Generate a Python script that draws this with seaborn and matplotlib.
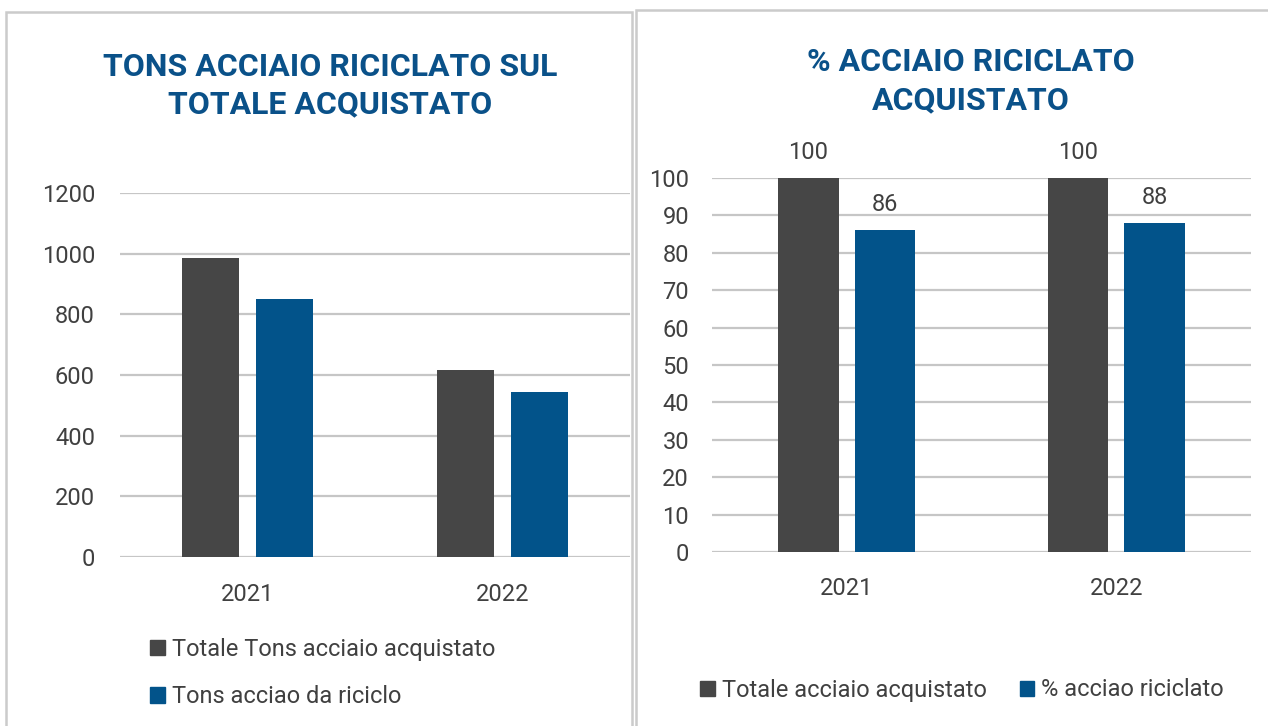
import matplotlib
matplotlib.use("Agg")
import matplotlib.pyplot as plt
from matplotlib.patches import Patch, Rectangle
import pandas as pd
import seaborn as sns

# data
anni = ["2021", "2022"]
tons_totale = [987, 618]
tons_riciclo = [852, 545]
perc_totale = [100, 100]
perc_riciclo = [86, 88]

serie_tons = ["Totale Tons acciaio acquistato", "Tons acciao da riciclo"]
serie_perc = ["Totale acciaio acquistato", "% acciao riciclato"]

titolo_sx = "TONS ACCIAIO RICICLATO SUL\nTOTALE ACQUISTATO"
titolo_dx = "% ACCIAIO RICICLATO\nACQUISTATO"

GRIGIO = "#464646"
BLU = "#02538a"
TITOLO = "#0a5189"
TESTO = "#404040"
GRIGLIA = "#c6c6c6"

sns.set_style("white")
plt.rcParams["font.family"] = ["Roboto", "DejaVu Sans"]

df_tons = pd.DataFrame({
    "anno": anni * 2,
    "serie": [serie_tons[0]] * 2 + [serie_tons[1]] * 2,
    "valore": tons_totale + tons_riciclo,
})
df_perc = pd.DataFrame({
    "anno": anni * 2,
    "serie": [serie_perc[0]] * 2 + [serie_perc[1]] * 2,
    "valore": perc_totale + perc_riciclo,
})

W, H = 1268, 726
fig = plt.figure(figsize=(W / 100, H / 100), dpi=100)


def px_axes(x0, x1, ytop, ybot):
    return fig.add_axes([x0 / W, 1 - ybot / H, (x1 - x0) / W, (ybot - ytop) / H])


# panel borders
fig.patches.append(Rectangle((6 / W, -0.1), 626 / W, 1.1 - 12 / H, transform=fig.transFigure,
                             fill=False, edgecolor="#cbcbcb", lw=1.8))
fig.patches.append(Rectangle((636 / W, -0.1), 1.0, 1.1 - 10 / H, transform=fig.transFigure,
                             fill=False, edgecolor="#cbcbcb", lw=1.8))

# left chart
ax1 = px_axes(120, 630, 193, 557)
sns.barplot(data=df_tons, x="anno", y="valore", hue="serie", palette=[GRIGIO, BLU],
            saturation=1, width=0.573, gap=0.22, legend=False, ax=ax1)
ax1.set_ylim(0, 1200)
ax1.set_yticks(range(0, 1201, 200))
ax1.set_xlim(-0.5, 1.5)

# right chart
ax2 = px_axes(712, 1251, 178, 552)
sns.barplot(data=df_perc, x="anno", y="valore", hue="serie", palette=[GRIGIO, BLU],
            saturation=1, width=0.568, gap=0.21, legend=False, ax=ax2)
ax2.set_ylim(0, 100)
ax2.set_yticks(range(0, 101, 10))
ax2.set_xlim(-0.5, 1.5)
for c in ax2.containers:
    ax2.bar_label(c, fmt="%d", padding=10, fontsize=17, color=TESTO)

for ax, ypad, xpad in [(ax1, 18, 19), (ax2, 16.5, 18)]:
    ax.set_xlabel("")
    ax.set_ylabel("")
    sns.despine(ax=ax, left=True, bottom=True)
    ax.yaxis.grid(True, color=GRIGLIA, lw=1.6)
    ax.set_axisbelow(True)
    ax.tick_params(axis="y", length=0, pad=ypad, labelsize=17, labelcolor=TESTO)
    ax.tick_params(axis="x", length=0, pad=xpad, labelsize=17, labelcolor=TESTO)
    ax.set_facecolor("none")
    for p in ax.patches:
        p.set_linewidth(0)

fig.text(330 / W, 1 - 85.5 / H, titolo_sx, ha="center", va="center", fontsize=23,
         fontweight="bold", color=TITOLO, linespacing=1.28)
fig.text(971 / W, 1 - 81 / H, titolo_dx, ha="center", va="center", fontsize=23,
         fontweight="bold", color=TITOLO, linespacing=1.32)

# legends
h1 = [Patch(color=GRIGIO, label=serie_tons[0]), Patch(color=BLU, label=serie_tons[1])]
fig.legend(handles=h1, loc="center left", bbox_to_anchor=(150 / W, 1 - 673 / H),
           frameon=False, fontsize=17, labelcolor=TESTO, ncol=1, handlelength=0.62,
           handleheight=0.62, handletextpad=0.3, labelspacing=1.05,
           borderpad=0, borderaxespad=0)

h2 = [Patch(color=GRIGIO, label=serie_perc[0]), Patch(color=BLU, label=serie_perc[1])]
fig.legend(handles=h2, loc="center left", bbox_to_anchor=(700 / W, 1 - 690 / H),
           frameon=False, fontsize=17, labelcolor=TESTO, ncol=2, handlelength=0.62,
           handleheight=0.62, handletextpad=0.3, columnspacing=1.4,
           borderpad=0, borderaxespad=0)

fig.savefig("out.png", dpi=100, facecolor="white")
